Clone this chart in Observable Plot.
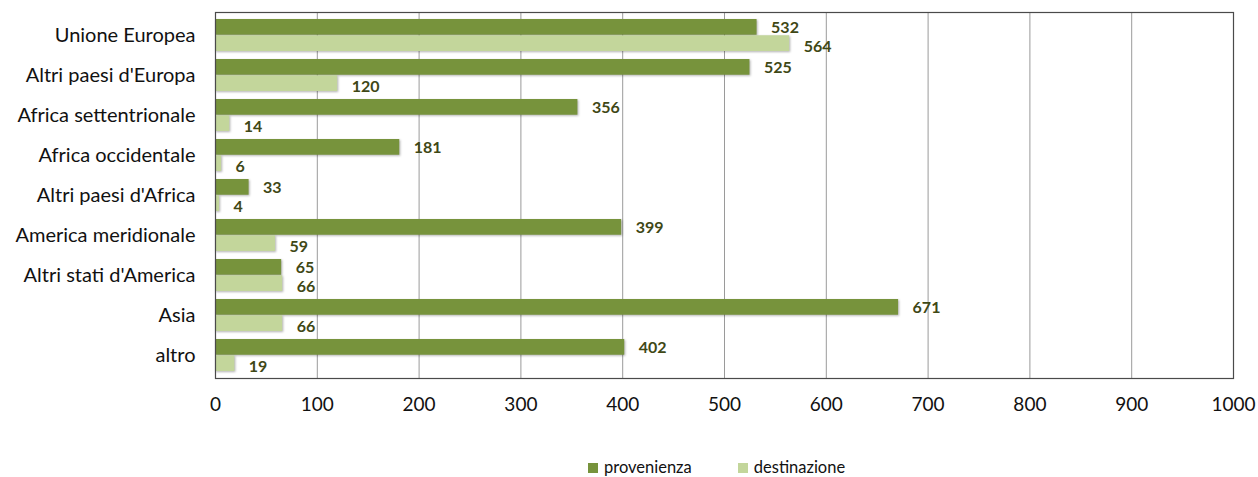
<!DOCTYPE html>
<html><head><meta charset="utf-8">
<script src="https://cdn.jsdelivr.net/npm/d3@7"></script>
<script src="https://cdn.jsdelivr.net/npm/@observablehq/plot@0.6"></script>
<style>
body{margin:0;background:#fff;font-family:Lato, "Open Sans", sans-serif}
#chart{position:relative;width:1258px;height:477px}
#legend{position:absolute;left:588px;top:459px;display:flex;align-items:center;font-size:16.5px;color:#111;line-height:17px;height:17px}
#legend .sw{width:10px;height:10px;margin-right:6px}
#legend .item{display:flex;align-items:center;margin-right:46px}
</style></head><body><div id="chart"></div>
<script>
const categories = ["Unione Europea","Altri paesi d'Europa","Africa settentrionale","Africa occidentale","Altri paesi d'Africa","America meridionale","Altri stati d'America","Asia","altro"];
const provenienza = [532,525,356,181,33,399,65,671,402];
const destinazione = [564,120,14,6,4,59,66,66,19];
const seriesNames = ["provenienza","destinazione"];
const seriesColors = ["#77933C","#C3D69B"];
const xTicks = [0,100,200,300,400,500,600,700,800,900,1000];

const W = 1258, H = 455, mt = 12, mb = 77, ml = 215, mr = 25;
const pi = 0.2, po = 0.1;
const step = (H - mt - mb) / (categories.length - pi + 2 * po);
const half = step * (1 - pi) / 2;

const rowsP = categories.map((c, i) => ({cat: c, v: provenienza[i]}));
const rowsD = categories.map((c, i) => ({cat: c, v: destinazione[i]}));
const labelColor = "#3F4816";

const svg = Plot.plot({
  width: W, height: H,
  marginTop: mt, marginBottom: mb, marginLeft: ml, marginRight: mr,
  style: {fontFamily: "Lato, 'Open Sans', sans-serif", fontSize: "19px", color: "#111", background: "#fff"},
  x: {domain: [0, 1000], ticks: xTicks, tickSize: 0, tickPadding: 19, label: null, tickFormat: d => String(d)},
  y: {domain: categories, paddingInner: pi, paddingOuter: po, tickSize: 0, tickPadding: 20, label: null},
  marks: [
    Plot.ruleX(xTicks.slice(1, -1), {stroke: "#9a9a9a", strokeWidth: 1}),
    Plot.barX(rowsP, {x: "v", y: "cat", fill: seriesColors[0], insetBottom: half}),
    Plot.barX(rowsD, {x: "v", y: "cat", fill: seriesColors[1], insetTop: half}),
    Plot.text(rowsP, {x: "v", y: "cat", text: d => String(d.v), dx: 14, dy: -half / 2 + 1, textAnchor: "start", fontWeight: "bold", fontSize: 16, fill: labelColor}),
    Plot.text(rowsD, {x: "v", y: "cat", text: d => String(d.v), dx: 14, dy: half / 2 + 3, textAnchor: "start", fontWeight: "bold", fontSize: 16, fill: labelColor}),
    Plot.frame({stroke: "#4a4a4a", strokeWidth: 1.2})
  ]
});
d3.select(svg).selectAll("g[aria-label=bar] rect").style("filter", "drop-shadow(1.5px 1.5px 1px rgba(0,0,0,0.3))");
d3.select(svg).selectAll("g[aria-label='y-axis tick label'] text, g[aria-label='y-axis tick label']").style("font-size", "20px");

const chart = document.getElementById("chart");
chart.appendChild(svg);
const legend = document.createElement("div");
legend.id = "legend";
seriesNames.forEach((n, i) => {
  const it = document.createElement("div");
  it.className = "item";
  const sw = document.createElement("div");
  sw.className = "sw";
  sw.style.background = seriesColors[i];
  const t = document.createElement("span");
  t.textContent = n;
  it.appendChild(sw); it.appendChild(t);
  legend.appendChild(it);
});
chart.appendChild(legend);
</script></body></html>
